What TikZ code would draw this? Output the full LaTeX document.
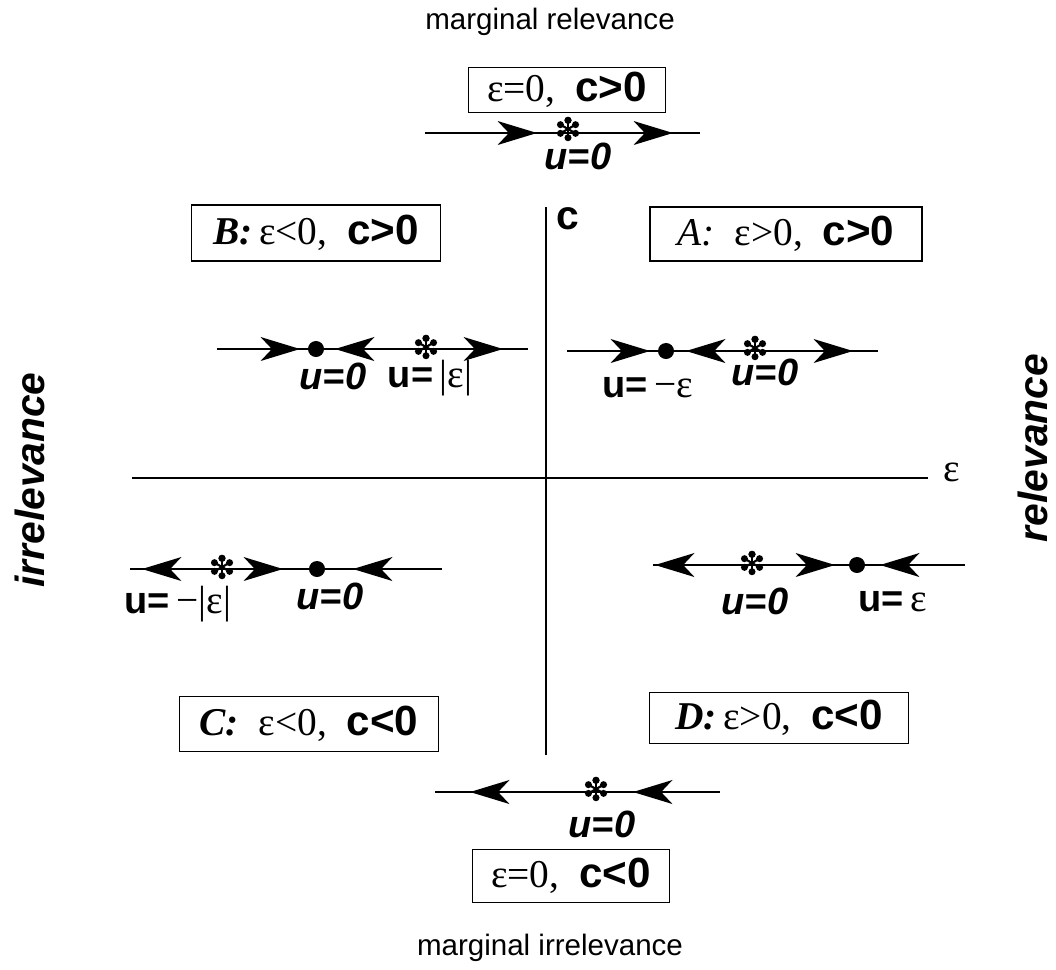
\documentclass[tikz,border=0pt]{standalone}
\usepackage{fontspec}
\setmainfont{Liberation Serif}
\setsansfont{Liberation Sans}
\usetikzlibrary{arrows.meta, positioning}

\tikzset{
  flow/.style={line width=1.3pt},
  axis/.style={line width=1.3pt},
  headR/.style={-{Stealth[length=28pt, width=17pt, inset=8pt]}, line width=1.3pt},
  casebox/.style={draw, line width=1.3pt, inner sep=0pt, font=\fontsize{28}{30}\selectfont},
  fixpt/.style={circle, fill, inner sep=0pt, minimum size=11.4pt},
  ulabel/.style={font=\sffamily\bfseries\itshape\fontsize{27}{30}\selectfont},
  vlabel/.style={font=\fontsize{28}{30}\selectfont},
  side/.style={font=\sffamily\bfseries\itshape\fontsize{29}{34}\selectfont, rotate=90, inner sep=0pt},
  title/.style={font=\sffamily\fontsize{21}{25}\selectfont},
  star/.pic={\foreach \a in {90,150,...,450} {\draw[line width=1.5pt] (0,0) -- (\a:5.5pt); \fill (\a:6.2pt) circle[radius=2.5pt];}}
}
\newcommand{\cgt}{\textsf{\bfseries\fontsize{30}{30}\selectfont c>0}}
\newcommand{\clt}{\textsf{\bfseries\fontsize{30}{30}\selectfont c<0}}
\newcommand{\ub}{\textsf{\bfseries\fontsize{27}{30}\selectfont u=}}

\begin{document}
\begin{tikzpicture}[x=0.025cm, y=-0.025cm]
		\useasboundingbox (0,0) rectangle (1056,969);
		% Titles and side labels:
		\node[title] (mrel) at (550,22) {marginal relevance};
		\node[title] (mirr) at (550,948) {marginal irrelevance};
		\node[side] (irr) at (30,480) {irrelevance};
		\node[side] (rel) at (1033,448) {relevance};
		% Axes:
		\coordinate (ctop) at (546,207);
		\coordinate (cbot) at (546,755);
		\coordinate (eleft) at (132,478);
		\coordinate (eright) at (928,478);
		\draw[axis] (cbot) -- (ctop);
		\draw[axis] (eleft) -- (eright);
		\node[font=\sffamily\bfseries\fontsize{29}{30}\selectfont] (clab) at (568,219) {c};
		\node[vlabel] (elab) at (952,472) {ε};
		% Boxes:
		\node[casebox, minimum width=4.925cm, minimum height=1.125cm] (box0p) at (567,90) {ε=0,\enspace\cgt};
		\node[casebox, minimum width=6.225cm, minimum height=1.4cm] (boxB) at (316,233) {\textbf{\textit{B:}}\,ε<0,\enspace\cgt};
		\node[casebox, minimum width=6.8cm, minimum height=1.35cm] (boxA) at (786,234) {\textit{A:}\enspace ε>0,\enspace\cgt};
		\node[casebox, minimum width=6.475cm, minimum height=1.375cm] (boxC) at (309,724) {\textbf{\textit{C:}}\enspace ε<0,\enspace\clt};
		\node[casebox, minimum width=6.475cm, minimum height=1.275cm] (boxD) at (779,718) {\textbf{\textit{D:}}\,ε>0,\enspace\clt};
		\node[casebox, minimum width=4.925cm, minimum height=1.325cm] (box0m) at (571,876) {ε=0,\enspace\clt};
		% Top flow, eps = 0, c > 0:
		\coordinate (t0) at (425,133);
		\coordinate (t1) at (700,133);
		\coordinate (ta) at (537,133);
		\coordinate (tb) at (673,133);
		\draw[flow] (t0) -- (t1);
		\draw[headR] ([xshift=-20pt]ta) -- (ta);
		\draw[headR] ([xshift=-20pt]tb) -- (tb);
		\pic at (568,129) {star};
		\node[ulabel] (tu) at (578,156) {u=0};
		% B flow:
		\coordinate (b0) at (217,349);
		\coordinate (b1) at (528,349);
		\coordinate (ba) at (300,349);
		\coordinate (bb) at (335,349);
		\coordinate (bc) at (503,349);
		\draw[flow] (b0) -- (b1);
		\draw[headR] ([xshift=-20pt]ba) -- (ba);
		\draw[headR] ([xshift=20pt]bb) -- (bb);
		\draw[headR] ([xshift=-20pt]bc) -- (bc);
		\node[fixpt] (bdot) at (316,349) {};
		\pic at (426,347) {star};
		\node[ulabel] (bu0) at (333,376) {u=0};
		\node[vlabel] (bue) at (430,378) {\ub\,|ε|};
		% A flow:
		\coordinate (a0) at (567,351);
		\coordinate (a1) at (878,351);
		\coordinate (aa) at (650,351);
		\coordinate (ab) at (686,351);
		\coordinate (ac) at (853,351);
		\draw[flow] (a0) -- (a1);
		\draw[headR] ([xshift=-20pt]aa) -- (aa);
		\draw[headR] ([xshift=20pt]ab) -- (ab);
		\draw[headR] ([xshift=-20pt]ac) -- (ac);
		\node[fixpt] (adot) at (666,351) {};
		\pic at (755,348) {star};
		\node[vlabel] (aue) at (648,388) {\ub\,−ε};
		\node[ulabel] (au0) at (765,372) {u=0};
		% C flow:
		\coordinate (c0) at (130,569);
		\coordinate (c1) at (442,569);
		\coordinate (ca) at (142,569);
		\coordinate (cb) at (283,569);
		\coordinate (cc) at (353,569);
		\draw[flow] (c0) -- (c1);
		\draw[headR] ([xshift=20pt]ca) -- (ca);
		\draw[headR] ([xshift=-20pt]cb) -- (cb);
		\draw[headR] ([xshift=20pt]cc) -- (cc);
		\node[fixpt] (cdot) at (317,569) {};
		\pic at (222,567) {star};
		\node[vlabel] (cue) at (178,604) {\ub\,−|ε|};
		\node[ulabel] (cu0) at (330,596) {u=0};
		% D flow:
		\coordinate (d0) at (653,565);
		\coordinate (d1) at (965,565);
		\coordinate (da) at (655,565);
		\coordinate (db) at (835,565);
		\coordinate (dc) at (880,565);
		\draw[flow] (d0) -- (d1);
		\draw[headR] ([xshift=20pt]da) -- (da);
		\draw[headR] ([xshift=-20pt]db) -- (db);
		\draw[headR] ([xshift=20pt]dc) -- (dc);
		\node[fixpt] (ddot) at (857,565) {};
		\pic at (752,563) {star};
		\node[ulabel] (du0) at (755,601) {u=0};
		\node[vlabel] (due) at (893,602) {\ub\,ε};
		% Bottom flow, eps = 0, c < 0:
		\coordinate (m0) at (435,792);
		\coordinate (m1) at (720,792);
		\coordinate (ma) at (470,792);
		\coordinate (mb) at (633,792);
		\draw[flow] (m0) -- (m1);
		\draw[headR] ([xshift=20pt]ma) -- (ma);
		\draw[headR] ([xshift=20pt]mb) -- (mb);
		\pic at (596,789) {star};
		\node[ulabel] (mu) at (602,824) {u=0};
	\end{tikzpicture}
\end{document}
